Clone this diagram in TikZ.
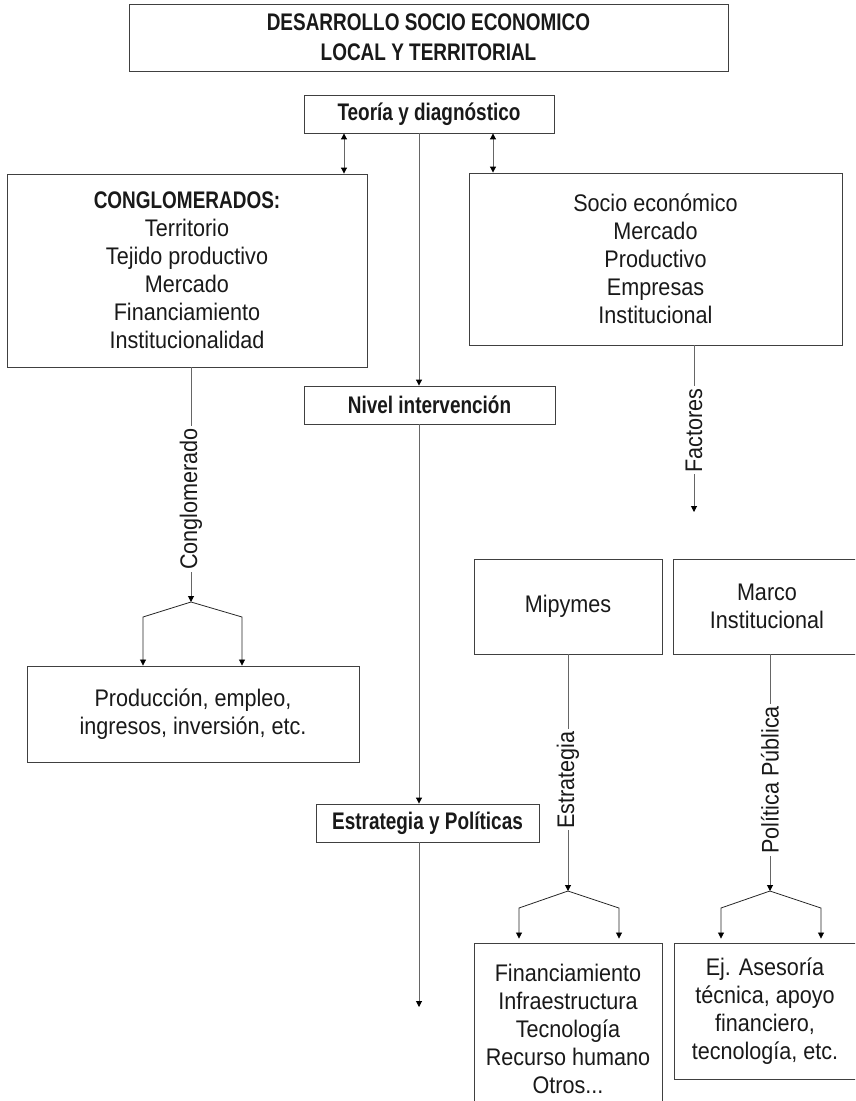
\documentclass[tikz,border=0pt]{standalone}
\usepackage{fontspec}
\setmainfont{Liberation Sans}[FakeStretch=0.9,BoldFeatures={FakeStretch=0.79}]
\usetikzlibrary{arrows.meta}
\begin{document}
\begin{tikzpicture}[x=1pt,y=-1pt,
  box/.style={draw=black!75, line width=0.9pt, align=center, inner sep=0pt,
    font=\fontsize{24}{28}\selectfont, text=black!90},
  bbox/.style={box, font=\fontsize{24}{30}\selectfont\bfseries},
  ln/.style={draw=black!60, line width=1pt},
  tip/.style={-{Triangle[length=6pt,width=6pt,color=black]}},
  arr/.style={ln, tip},
  dbl/.style={ln, {Triangle[length=6pt,width=6pt,color=black]}-{Triangle[length=6pt,width=6pt,color=black]}},
  br/.style={draw=black!85, line width=0.8pt, tip},
  lab/.style={rotate=90, fill=white, inner sep=2pt, font=\fontsize{24}{28}\selectfont, text=black!90}]
\useasboundingbox (0,0) rectangle (855,1101);
\clip (0,0) rectangle (855,1101);

% boxes
\node[bbox, minimum width=599pt, minimum height=67pt] (title) at (428.5,37.5) {DESARROLLO SOCIO ECONOMICO\\LOCAL Y TERRITORIAL};
\node[bbox, minimum width=250pt, minimum height=38pt] (teoria) at (429,114) {Teoría y diagnóstico};
\node[box, minimum width=360pt, minimum height=193pt] (cong) at (187,270.5) {\textbf{CONGLOMERADOS:}\\Territorio\\Tejido productivo\\Mercado\\Financiamiento\\Institucionalidad};
\node[box, minimum width=373pt, minimum height=172pt] (socio) at (655.5,259) {Socio económico\\Mercado\\Productivo\\Empresas\\Institucional};
\node[bbox, minimum width=251pt, minimum height=38pt] (nivel) at (429.5,405) {Nivel intervención};
\node[box, minimum width=332pt, minimum height=96pt] (prod) at (193,714) {Producción, empleo,\\ingresos, inversión, etc.};
\node[box, minimum width=188pt, minimum height=95pt] (mipy) at (568,606.5) {Mipymes};
\node[box, minimum width=188pt, minimum height=95pt] (marco) at (767,606.5) {Marco\\Institucional};
\node[bbox, minimum width=223pt, minimum height=38pt] (estr) at (427.5,823) {Estrategia y Políticas};
\node[box, minimum width=188pt, minimum height=171pt] (fin) at (568,1028.5) {Financiamiento\\Infraestructura\\Tecnología\\Recurso humano\\Otros...};
\node[box, minimum width=182pt, minimum height=136pt] (ej) at (765,1011) {Ej. Asesoría\\técnica, apoyo\\financiero,\\tecnología, etc.};

% helper coordinates
\coordinate (sp) at (419,0);
\coordinate (c1) at (344,0);
\coordinate (c2) at (493,0);
\coordinate (endc) at (419,1007);
\coordinate (s1) at (191,602);
\coordinate (s1l) at (143,617);
\coordinate (s1r) at (242,617);
\coordinate (fend) at (694,512);
\coordinate (s2) at (568,891);
\coordinate (s2l) at (519,908);
\coordinate (s2r) at (619,908);
\coordinate (s3) at (770,891);
\coordinate (s3l) at (721,908);
\coordinate (s3r) at (821,908);

% spine
\draw[arr] (teoria.south -| sp) -- (nivel.north -| sp);
\draw[arr] (nivel.south -| sp) -- (estr.north -| sp);
\draw[arr] (estr.south -| sp) -- (endc);

% double arrows
\draw[dbl] (teoria.south -| c1) -- (cong.north -| c1);
\draw[dbl] (teoria.south -| c2) -- (socio.north -| c2);

% Conglomerado branch
\draw[arr] (cong.south -| s1) -- node[lab, pos=0.56] {Conglomerado} (s1);
\draw[br] (s1) -- (s1l) -- (prod.north -| s1l);
\draw[br] (s1) -- (s1r) -- (prod.north -| s1r);

% Factores
\draw[arr] (socio.south -| fend) -- node[lab, pos=0.51] {Factores} (fend);

% Estrategia branch
\draw[arr] (mipy.south) -- node[lab, pos=0.53] {Estrategia} (s2);
\draw[br, shorten >=4pt] (s2) -- (s2l) -- (fin.north -| s2l);
\draw[br, shorten >=4pt] (s2) -- (s2r) -- (fin.north -| s2r);

% Politica branch
\draw[arr] (marco.south -| s3) -- node[lab, pos=0.53] {Política Pública} (s3);
\draw[br, shorten >=4pt] (s3) -- (s3l) -- (ej.north -| s3l);
\draw[br, shorten >=4pt] (s3) -- (s3r) -- (ej.north -| s3r);
\end{tikzpicture}
\end{document}
